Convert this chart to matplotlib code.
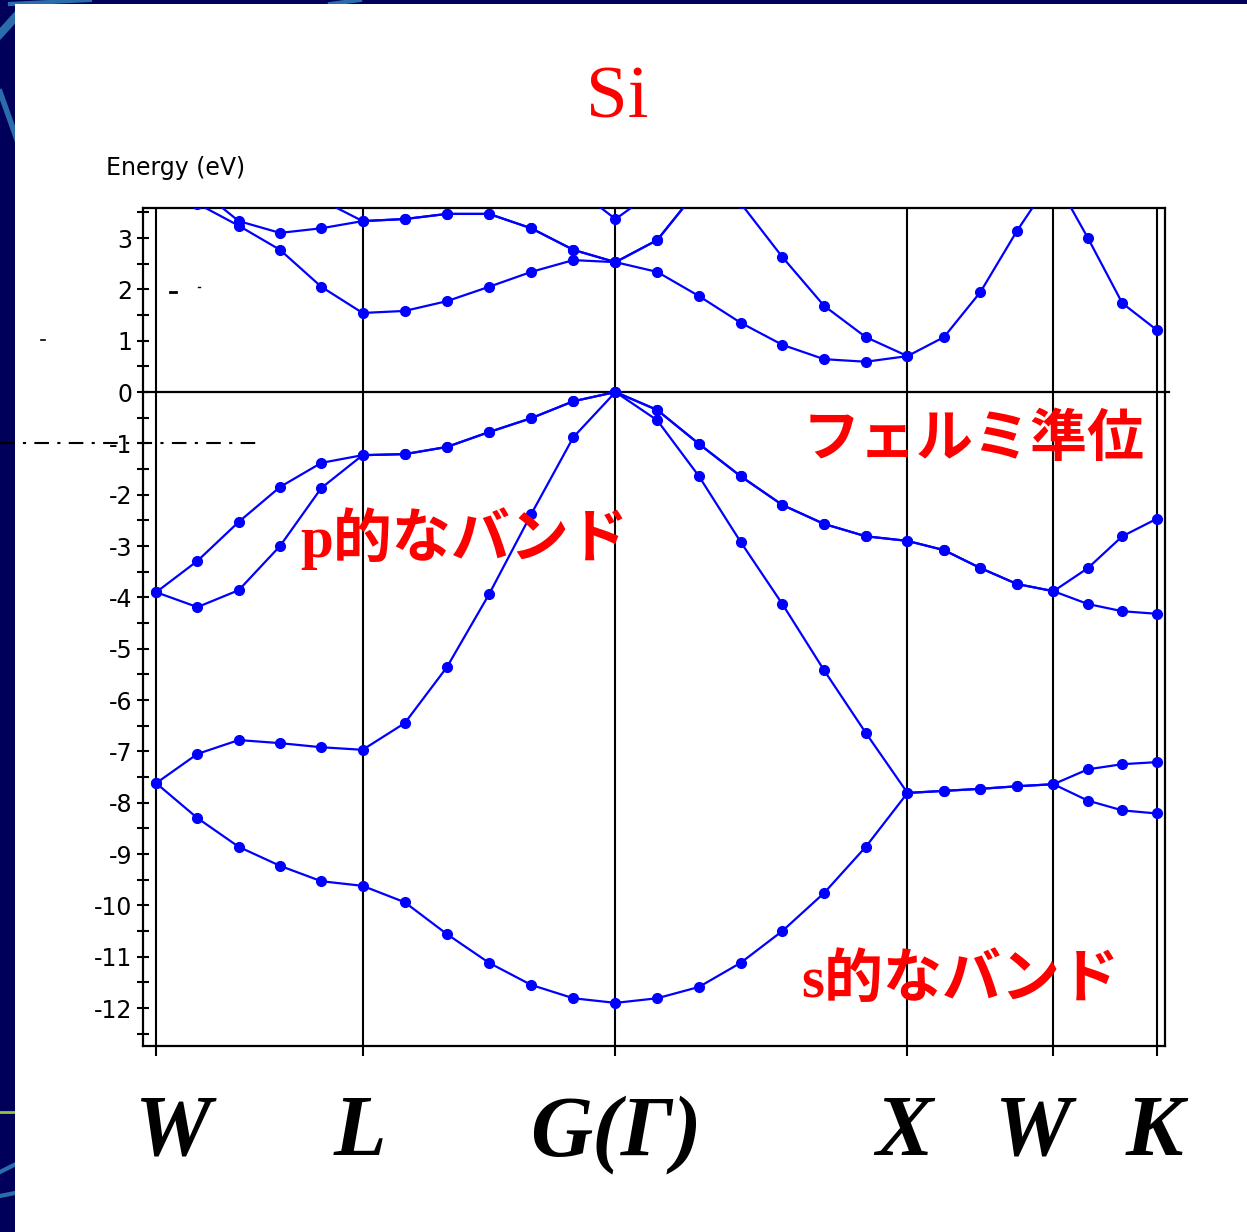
import numpy as np
import matplotlib
matplotlib.use("Agg")
import matplotlib.pyplot as plt  # noqa: E402
from matplotlib.lines import Line2D  # noqa: E402
from matplotlib.patches import Rectangle  # noqa: E402
from matplotlib.ticker import MultipleLocator  # noqa: E402
from matplotlib.transforms import blended_transform_factory, ScaledTranslation  # noqa: E402

plt.rcParams["axes.unicode_minus"] = False

W_PX, H_PX = 1247, 1232
NAVY = "#00005a"
BLUE = "#0000ff"
nan = np.nan

# fcc path, coordinates in units of 2pi/a
KLABELS = ["W", "L", "G(Γ)", "X", "W", "K"]
KCOORDS = [(1.0, 0.5, 0.0), (0.5, 0.5, 0.5), (0.0, 0.0, 0.0),
           (1.0, 0.0, 0.0), (1.0, 0.5, 0.0), (0.75, 0.75, 0.0)]
STEPS = [5, 6, 7, 4, 3]

# valence bands (eV), one value per k-point along W-L-G-X-W-K
BAND_S = [-7.62, -8.30, -8.86, -9.23, -9.53, -9.62, -9.94, -10.56, -11.12, -11.55, -11.81, -11.90,
          -11.81, -11.59, -11.12, -10.50, -9.76, -8.86, -7.81, -7.77, -7.73, -7.68, -7.64,
          -7.96, -8.15, -8.21]
BAND_2 = [-7.62, -7.05, -6.78, -6.84, -6.92, -6.97, -6.45, -5.36, -3.94, -2.38, -0.88, 0.00,
          -0.55, -1.64, -2.92, -4.13, -5.42, -6.64, -7.81, -7.77, -7.73, -7.68, -7.64,
          -7.35, -7.25, -7.21]
BAND_3 = [-3.90, -4.19, -3.86, -3.00, -1.87, -1.23, -1.21, -1.07, -0.78, -0.51, -0.18, 0.00,
          -0.35, -1.01, -1.64, -2.20, -2.57, -2.81, -2.90, -3.08, -3.43, -3.74, -3.88,
          -4.13, -4.27, -4.32]
BAND_4 = [-3.90, -3.29, -2.53, -1.85, -1.38, -1.23, -1.21, -1.07, -0.78, -0.51, -0.18, 0.00,
          -0.35, -1.01, -1.64, -2.20, -2.57, -2.81, -2.90, -3.08, -3.43, -3.74, -3.88,
          -3.43, -2.81, -2.47]
# conduction bands (nan = far above the plotted window)
BAND_5 = [4.10, 3.67, 3.24, 2.77, 2.05, 1.54, 1.58, 1.77, 2.05, 2.34, 2.57, 2.53,
          2.34, 1.87, 1.35, 0.92, 0.64, 0.59, 0.70, 1.07, 1.95, 3.14, 4.20,
          3.00, 1.73, 1.21]
BAND_6 = [nan, 3.98, 3.33, 3.10, 3.19, 3.33, 3.37, 3.47, 3.47, 3.19, 2.77, 2.53,
          2.96, 3.97, nan, nan, nan, nan, nan, nan, nan, nan, nan, nan, nan, nan]
BAND_7 = [nan, nan, nan, nan, 3.74, 3.33, 3.37, 3.47, 3.47, 3.19, 2.77, 2.53,
          2.96, 3.97, nan, nan, nan, nan, nan, nan, nan, nan, nan, nan, nan, nan]
BAND_8 = [nan] * 10 + [4.00, 3.37, 3.95] + [nan] * 13
BAND_9 = [nan] * 14 + [3.68, 2.63, 1.68, 1.07, 0.70] + [nan] * 7
BANDS = [BAND_S, BAND_2, BAND_3, BAND_4, BAND_5, BAND_6, BAND_7, BAND_8, BAND_9]

YLIM = (-12.74, 3.585)
XLIM = (-0.045, 3.455)


def fpos(x, y):
    """pixel position -> figure fraction"""
    return x / W_PX, 1 - y / H_PX


def kpath():
    c = np.array(KCOORDS)
    seg = np.linalg.norm(np.diff(c, axis=0), axis=1)
    ticks = np.concatenate([[0], np.cumsum(seg)])
    ks = [ticks[0]]
    for i, n in enumerate(STEPS):
        ks.extend(np.linspace(ticks[i], ticks[i + 1], n + 1)[1:])
    return ticks, np.array(ks)


def backdrop(fig):
    def stroke(xs, ys, color="#2b6cab", lw=5):
        pts = [fpos(x, y) for x, y in zip(xs, ys)]
        fig.add_artist(Line2D([p[0] for p in pts], [p[1] for p in pts], color=color, lw=lw,
                              transform=fig.transFigure, zorder=-2))
    stroke([0, 20], [34, 12], lw=6)
    stroke([0, 20], [92, 148], lw=4)
    stroke([10, 90], [4, 0], lw=3)
    stroke([330, 360], [4, 0], lw=3)
    stroke([0, 20], [1112, 1112], color="#8cc63f", lw=2)
    stroke([0, 20], [1172, 1162], lw=3)
    stroke([0, 20], [1196, 1192], lw=3)
    x0, y0 = fpos(15, H_PX)
    fig.add_artist(Rectangle((x0, 0), 1 - x0, 1 - 4 / H_PX, transform=fig.transFigure,
                             facecolor="white", edgecolor="none", zorder=-1))


def main():
    ticks, ks = kpath()
    fig = plt.figure(figsize=(W_PX / 100, H_PX / 100), dpi=100, facecolor=NAVY)
    backdrop(fig)

    l, b = fpos(143, 1046)
    r, t = fpos(1165, 208)
    ax = fig.add_axes([l, b, r - l, t - b])
    ax.set_xlim(*XLIM)
    ax.set_ylim(*YLIM)
    for s in ax.spines.values():
        s.set_linewidth(1.6)

    ax.yaxis.set_major_locator(MultipleLocator(1))
    ax.yaxis.set_minor_locator(MultipleLocator(0.5))
    ax.tick_params(axis="y", which="both", direction="inout", length=9, width=1.5,
                   labelsize=17, pad=3)
    ax.set_xticks(ticks)
    ax.set_xticklabels([])
    ax.tick_params(axis="x", direction="out", length=7, width=1.5)

    for k in ticks:
        ax.axvline(k, color="black", lw=1.5, zorder=1)
    ax.plot([XLIM[0], 3.47], [0, 0], color="black", lw=1.6, clip_on=False, zorder=1)

    for e in BANDS:
        ax.plot(ks, e, "-o", color=BLUE, lw=1.6, ms=7, zorder=3)

    # symmetry point labels under the axis
    trans = blended_transform_factory(ax.transData, fig.transFigure)
    dx = [16, -3, 0, -4, -21, -2]
    for k, lab, d in zip(ticks, KLABELS, dx):
        ax.text(k, fpos(0, 1155)[1], lab, transform=trans + ScaledTranslation(d / 100, 0, fig.dpi_scale_trans),
                ha="center", va="baseline", fontsize=62, fontweight="bold", fontstyle="italic",
                family="Liberation Serif")

    fig.text(*fpos(617, 118), "Si", color="red", fontsize=54, family="Liberation Serif",
             ha="center", va="baseline")
    fig.text(*fpos(106, 168), "Energy (eV)", fontsize=17, ha="left", va="center")

    jp = ["Liberation Serif", "Noto Sans CJK JP"]
    fig.text(*fpos(803, 441), "フェルミ準位", color="red", fontsize=41, fontweight="bold",
             family=jp, ha="left", va="center")
    fig.text(*fpos(300, 539), "p的なバンド", color="red", fontsize=42.5, fontweight="bold",
             family=jp, ha="left", va="center")
    fig.text(*fpos(801, 983), "s的なバンド", color="red", fontsize=42.5, fontweight="bold",
             family=jp, ha="left", va="center")

    # dash-dot guide at -1 eV and stray marks
    def fline(xs, ys, **kw):
        pts = [fpos(x, y) for x, y in zip(xs, ys)]
        fig.add_artist(Line2D([p[0] for p in pts], [p[1] for p in pts],
                              transform=fig.transFigure, color="black", zorder=5, **kw))
    fline([0, 260], [443, 443], lw=1.5, dashes=(7, 4, 1.5, 4))
    fline([170, 176], [292, 292], lw=2)
    fline([198, 200], [287, 287], lw=1)
    fline([41, 45], [340, 340], lw=1.2)

    fig.savefig("out.png", dpi=100, facecolor=NAVY)


if __name__ == "__main__":
    main()
